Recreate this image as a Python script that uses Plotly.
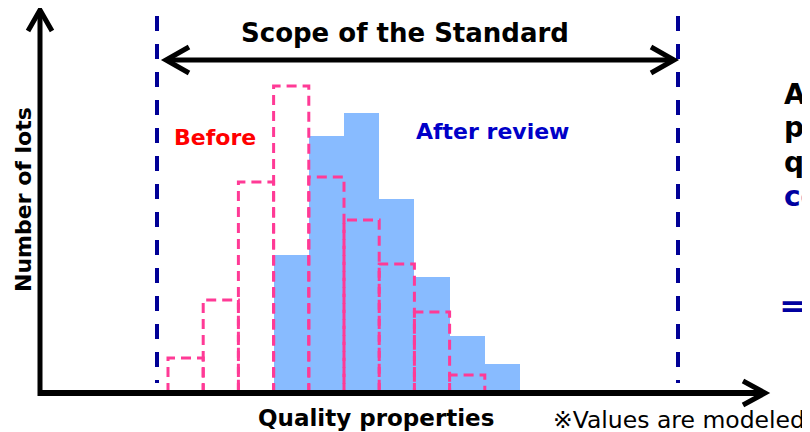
import plotly.graph_objects as go

# ---- data ("values are modeled") ----
before_bins = [0, 1, 2, 3, 4, 5, 6, 7, 8]
before_lots = [3.5, 9.3, 21.1, 30.7, 21.6, 17.3, 12.9, 8.1, 1.8]
after_bins = [3, 4, 5, 6, 7, 8, 9]
after_lots = [13.8, 25.7, 28.0, 19.4, 11.6, 5.7, 2.9]

# page body has an 8px margin: draw the figure 8px smaller so it fills the window
OFF = 8
VIEW_W, VIEW_H = 810, 432
W, H = VIEW_W - OFF, VIEW_H - OFF
FONT = "DejaVu Sans"
PINK = "#FF3A96"
NAVY = "#000096"
LIGHTBLUE = "#88BBFF"


def px(x):
    return (x - OFF) / W


def py(y):
    return 1 - (y - OFF) / H


# outline of the "before" histogram, built from the data
ox, oy = [], []
for b, v in zip(before_bins, before_lots):
    ox += [b - 0.5, b - 0.5, b + 0.5, b + 0.5, None]
    oy += [0, v, v, 0, None]

fig = go.Figure()
fig.add_trace(go.Bar(x=after_bins, y=after_lots, width=1.0,
                     marker=dict(color=LIGHTBLUE, line=dict(width=0)),
                     hoverinfo="skip"))
fig.add_trace(go.Scatter(x=ox, y=oy, mode="lines",
                         line=dict(color=PINK, width=3, dash="10px,6px"),
                         hoverinfo="skip"))

shapes = []
# scope dashed lines
for xv in (157, 678):
    shapes.append(dict(type="line", xref="paper", yref="paper",
                       x0=px(xv), x1=px(xv), y0=py(16), y1=py(383),
                       line=dict(color=NAVY, width=4, dash="15px,13px")))
# scope double arrow
shapes.append(dict(type="line", xref="paper", yref="paper",
                   x0=px(168), x1=px(672), y0=py(60), y1=py(60),
                   line=dict(color="black", width=5)))
shapes.append(dict(type="path", xref="paper", yref="paper",
                   path=f"M {px(189)},{py(47)} L {px(166)},{py(60)} L {px(189)},{py(73)}",
                   line=dict(color="black", width=5)))
shapes.append(dict(type="path", xref="paper", yref="paper",
                   path=f"M {px(651)},{py(47)} L {px(674)},{py(60)} L {px(651)},{py(73)}",
                   line=dict(color="black", width=5)))
# axes with arrows
shapes.append(dict(type="line", xref="paper", yref="paper",
                   x0=px(40), x1=px(40), y0=py(396), y1=py(11),
                   line=dict(color="black", width=5)))
shapes.append(dict(type="path", xref="paper", yref="paper",
                   path=f"M {px(28)},{py(31)} L {px(40)},{py(10)} L {px(52)},{py(31)}",
                   line=dict(color="black", width=5)))
shapes.append(dict(type="line", xref="paper", yref="paper",
                   x0=px(38), x1=px(764), y0=py(393), y1=py(393),
                   line=dict(color="black", width=6)))
shapes.append(dict(type="path", xref="paper", yref="paper",
                   path=f"M {px(743)},{py(381)} L {px(765)},{py(393)} L {px(743)},{py(405)}",
                   line=dict(color="black", width=5)))


def ann(text, x, y, size, color="black", xanchor="left", bold=True, angle=0, family=FONT):
    return dict(text=text, x=px(x), y=py(y), xref="paper", yref="paper",
                xanchor=xanchor, yanchor="middle", showarrow=False, textangle=angle,
                font=dict(family=family, size=size, color=color,
                          weight="bold" if bold else "normal"))


annotations = [
    ann("Scope of the Standard", 405, 33, 26, xanchor="center"),
    ann("Before", 172, 137, 22, color="#FF0000"),
    ann("After review", 414, 131, 22, color="#0000C8"),
    ann("Number of lots", 23, 200, 22, xanchor="center", angle=-90),
    ann("Quality properties", 376, 418, 23, xanchor="center"),
    ann("※Values are modeled.", 551, 420, 23.5, bold=False),
    ann("After the review,", 782, 94, 28),
    ann("products'", 782, 128, 28),
    ann("quality is", 782, 162, 28),
    ann("centered", 782, 196, 28, color="#0000A0"),
    ann("⇒", 778, 305, 46, color="#0000A0"),
]

fig.update_layout(
    width=W, height=H,
    margin=dict(l=0, r=0, t=0, b=0),
    paper_bgcolor="white", plot_bgcolor="white",
    showlegend=False, bargap=0,
    xaxis=dict(range=[(OFF - 185.6) / 35.2, (VIEW_W - 185.6) / 35.2],
               visible=False, fixedrange=True),
    yaxis=dict(range=[(393 - VIEW_H) / 10, (393 - OFF) / 10],
               visible=False, fixedrange=True),
    shapes=shapes, annotations=annotations,
)

fig.write_html("out.html")
